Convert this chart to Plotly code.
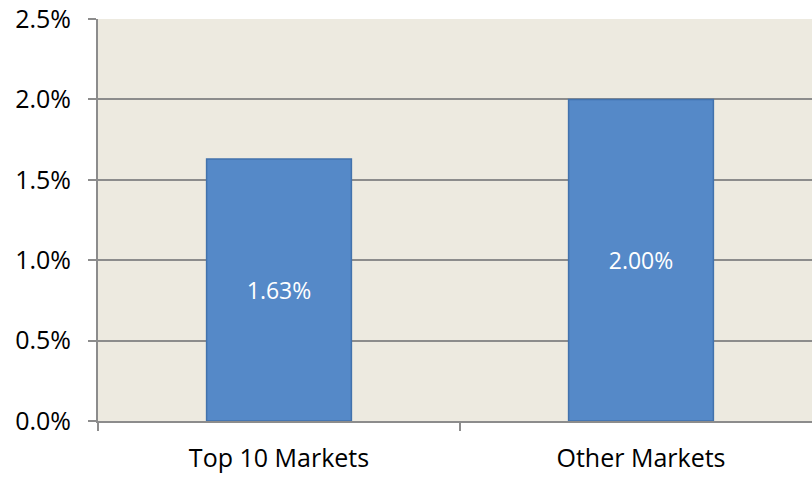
import plotly.graph_objects as go

categories = ["Top 10 Markets", "Other Markets"]
values = [1.63, 2.00]
labels = ["1.63%", "2.00%"]
y_ticks = [0.0, 0.5, 1.0, 1.5, 2.0, 2.5]
y_tick_text = ["0.0%", "0.5%", "1.0%", "1.5%", "2.0%", "2.5%"]

FONT = "'Open Sans', Lato, sans-serif"

fig = go.Figure()
fig.add_trace(go.Bar(
    x=categories,
    y=values,
    width=0.4,
    text=labels,
    textposition="inside",
    insidetextanchor="middle",
    textfont=dict(family=FONT, size=23, color="white"),
    marker=dict(color="#5589C8", line=dict(color="#4272AC", width=1.5)),
    cliponaxis=False,
))

fig.update_layout(
    width=812, height=478,
    margin=dict(l=98, r=0, t=19, b=57),
    paper_bgcolor="white",
    plot_bgcolor="#EDEAE0",
    showlegend=False,
    font=dict(family=FONT, size=25, color="black"),
)
fig.update_yaxes(
    range=[0, 2.5],
    tickvals=y_ticks,
    ticktext=y_tick_text,
    showgrid=True, gridcolor="#8C8C8C", gridwidth=2,
    showline=True, linecolor="#8C8C8C", linewidth=2,
    ticks="outside", ticklen=8, tickcolor="#8C8C8C", tickwidth=2,
    ticklabelstandoff=12,
    zeroline=False,
)
fig.update_xaxes(
    range=[-0.5, 1.4724],
    showgrid=False,
    showline=True, linecolor="#8C8C8C", linewidth=2,
    ticks="outside", ticklen=8, tickcolor="#8C8C8C", tickwidth=2,
    tickson="boundaries",
    ticklabelstandoff=14,
)

fig.write_html("out.html")
